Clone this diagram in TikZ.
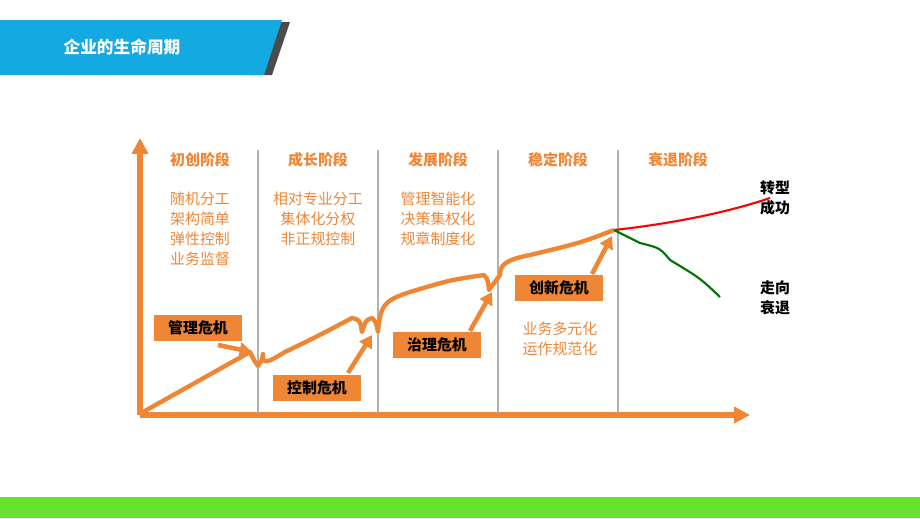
\documentclass[tikz,border=0pt]{standalone}
\usepackage{fontspec}
\setmainfont{Noto Sans CJK SC}
\usetikzlibrary{arrows.meta}
\definecolor{orng}{HTML}{EE8636}
\definecolor{cyanbar}{HTML}{14A9E1}
\definecolor{greenbar}{HTML}{66E22E}
\tikzset{
  stage/.style={text=orng,font=\bfseries\fontsize{8.5}{10}\selectfont},
  lst/.style={text=orng,font=\fontsize{8.5}{11.3}\selectfont,align=center},
  crisis/.style={fill=orng,draw=white,line width=0.8pt,minimum width=51pt,minimum height=15.5pt,font=\bfseries\fontsize{8.5}{10}\selectfont,inner sep=2pt},
  fat/.style={orng,line width=2.6pt,-{Triangle[length=7pt,width=8pt]}},
  endlbl/.style={font=\bfseries\fontsize{8.5}{11.5}\selectfont,align=center}
}
\begin{document}
\begin{tikzpicture}[x=0.02cm,y=-0.02cm]
\useasboundingbox(0,0)rectangle(920,518);
% header and footer bars
\fill[gray!60!black](268,22)--(290,22)--(272,75)--(250,75)--cycle;
\fill[cyanbar](0,20)--(282,20)--(264,75)--(0,75)--cycle;
\node[text=white,font=\bfseries\fontsize{9.5}{11}\selectfont](title)at(122,47){企业的生命周期};
\fill[greenbar](0,497)rectangle(920,518);
% axes
\coordinate(O)at(140,415);
\draw[orng,line width=3pt,-{Triangle[length=9pt,width=9pt]}](O)--(140,138);
\draw[orng,line width=3pt,-{Triangle[length=9pt,width=9pt]}](O)--(750,415);
% dividers
\foreach \x in {258,378,498,618}
  \draw[gray!60,line width=0.8pt](\x,150)--(\x,413);
% stage headers
\node[stage](s1)at(200,160){初创阶段};
\node[stage](s2)at(318,160){成长阶段};
\node[stage](s3)at(438,160){发展阶段};
\node[stage](s4)at(558,160){稳定阶段};
\node[stage](s5)at(678,160){衰退阶段};
\node[lst,anchor=north](l1)at(200,186){随机分工\\架构简单\\弹性控制\\业务监督};
\node[lst,anchor=north](l2)at(318,186){相对专业分工\\集体化分权\\非正规控制};
\node[lst,anchor=north](l3)at(438,186){管理智能化\\决策集权化\\规章制度化};
\node[lst](l4)at(560,339){业务多元化\\运作规范化};
% life curve
\draw[orng,line width=2.5pt,line join=round]
 (143,412)--(250,352)..controls(255,362)..(258,366)..controls(262,360)..(263,354)
 ..controls(262,366)and(268,362)..(285,352)..controls(320,335)..(352,318)
 ..controls(360,320)..(362,332)..controls(366,320)..(372,318)..controls(376,322)..(378,332)
 ..controls(380,305)and(385,300)..(410,292)..controls(450,280)..(484,275)
 ..controls(488,280)..(489,290)..controls(494,282)..(500,275)
 ..controls(500,265)and(505,260)..(530,255)..controls(580,243)..(614,230);
\coordinate(top)at(614,230);
\draw[red,line width=1.2pt](top)..controls(660,225)and(720,215)..(770,198);
\draw[green!45!black,line width=1.2pt](top)--(640,243)..controls(660,248)..(670,260)..controls(700,278)..(720,297);
\node[endlbl](ok)at(775,198){转型\\成功};
\node[endlbl](bad)at(775,298){走向\\衰退};
% crises
\node[crisis](c1)at(198,328){管理危机};
\node[crisis](c2)at(317,388){控制危机};
\node[crisis](c3)at(437,345){治理危机};
\node[crisis](c4)at(559,288){创新危机};
\draw[fat](218,345)--(252,352);
\draw[fat](348,373)--(372,335);
\draw[fat](470,331)--(492,292);
\draw[fat](592,274)--(612,236);
\end{tikzpicture}
\end{document}
